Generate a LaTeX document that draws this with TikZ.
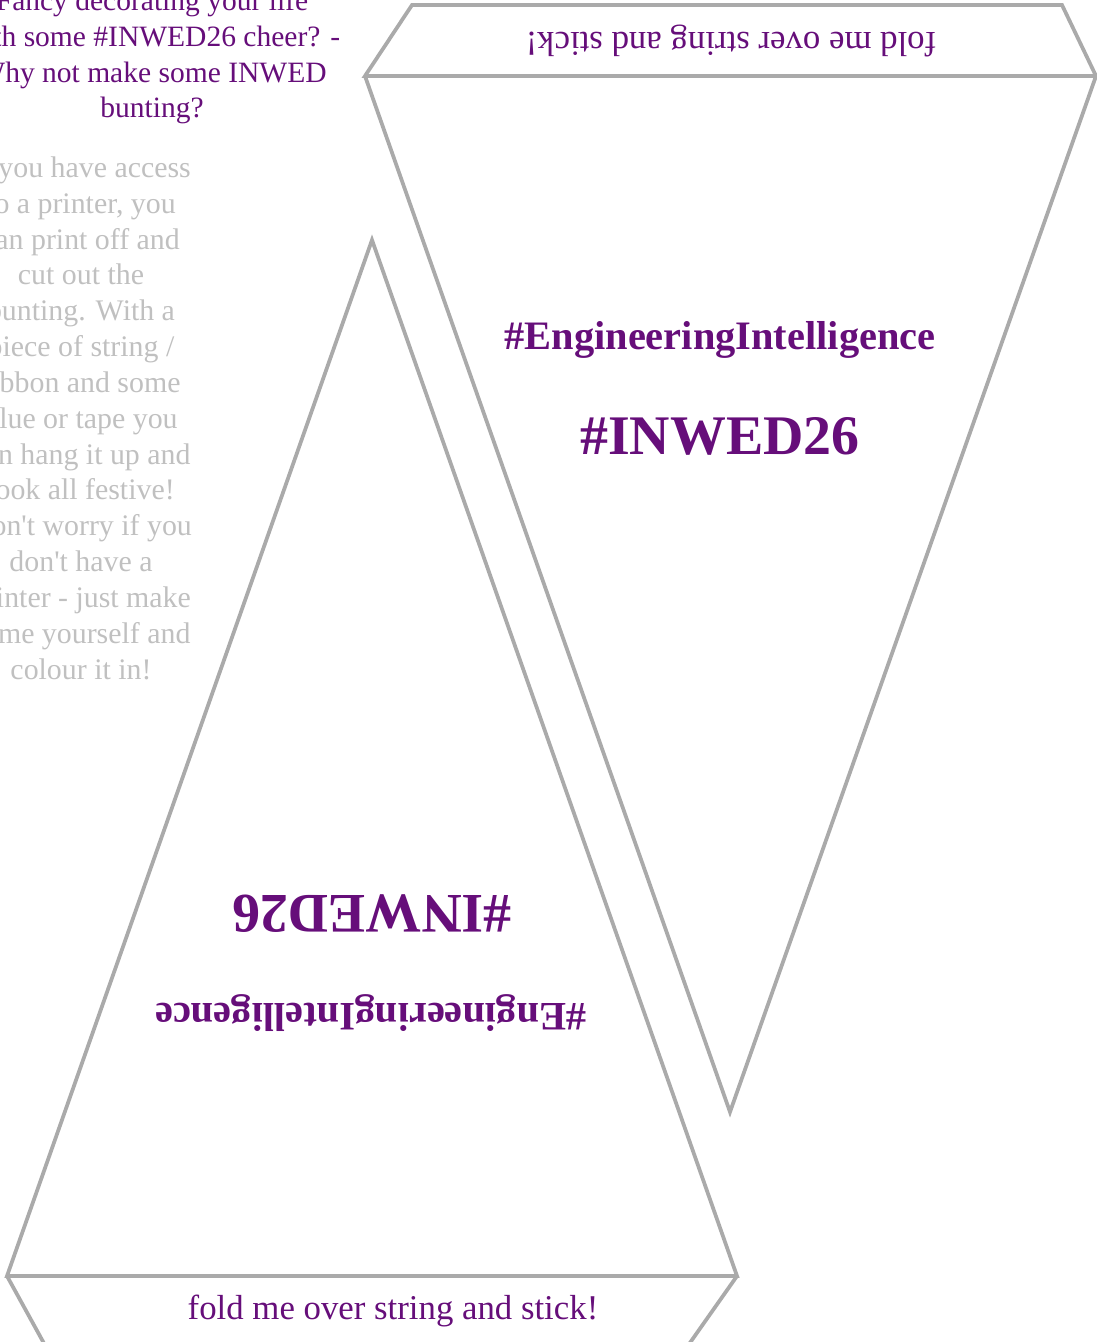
\documentclass[tikz,border=0pt]{standalone}
\usepackage{fontspec}
\setmainfont{Liberation Serif}
\definecolor{inwed}{RGB}{102,14,122}
\definecolor{cutline}{RGB}{170,170,170}
\definecolor{notegray}{RGB}{192,192,192}
\begin{document}
\begin{tikzpicture}[x=0.02cm,y=-0.02cm,
  flag/.style={draw=cutline,line width=0.075cm},
  intro/.style={text=inwed,align=center,font=\fontsize{16.8}{20.4}\selectfont},
  howto/.style={text=notegray,align=center,font=\fontsize{17}{20.4}\selectfont},
  foldtxt/.style={text=inwed,font=\fontsize{19.8}{24}\selectfont},
  tagline/.style={text=inwed,font=\bfseries\fontsize{23}{27}\selectfont},
  bigtag/.style={text=inwed,font=\bfseries\fontsize{31.8}{38}\selectfont}]
\useasboundingbox (0,0) rectangle (1097,1342);
% top tab and the flag hanging from it
\draw[flag] (365,76) -- (412,5) -- (1062,5) -- (1096,76) -- cycle;
\draw[flag] (365,76) -- (730,1112) -- (1096,76);
% second flag, upside down, and its tab
\draw[flag] (7,1276) -- (372,240) -- (737,1276) -- cycle;
\draw[flag] (7,1276) -- (46,1347) -- (687,1347) -- (737,1276);
\node[intro] (title) at (152,57) {Fancy decorating your life\\with some \#INWED26 cheer? -\\Why not make some INWED\\bunting?};
\node[howto] (steps) at (81,418) {If you have access\\to a printer,  you\\can print off and\\cut out the\\bunting. With a\\piece of string /\\ribbon and some\\glue or tape you\\can hang it up and\\look all festive!\\Don\textquotesingle t worry if you\\don\textquotesingle t have a\\printer - just make\\some yourself and\\colour it in!};
\node[foldtxt,rotate=180] (foldtop) at (731,41) {fold me over string and stick!};
\node[tagline] (engR) at (720,340) {\#EngineeringIntelligence};
\node[bigtag] (inwedR) at (720,436) {\#INWED26};
\node[bigtag,rotate=180] (inwedL) at (372,914) {\#INWED26};
\node[tagline,rotate=180] (engL) at (371,1013) {\#EngineeringIntelligence};
\node[foldtxt] (foldbot) at (393,1311) {fold me over string and stick!};
\end{tikzpicture}
\end{document}
